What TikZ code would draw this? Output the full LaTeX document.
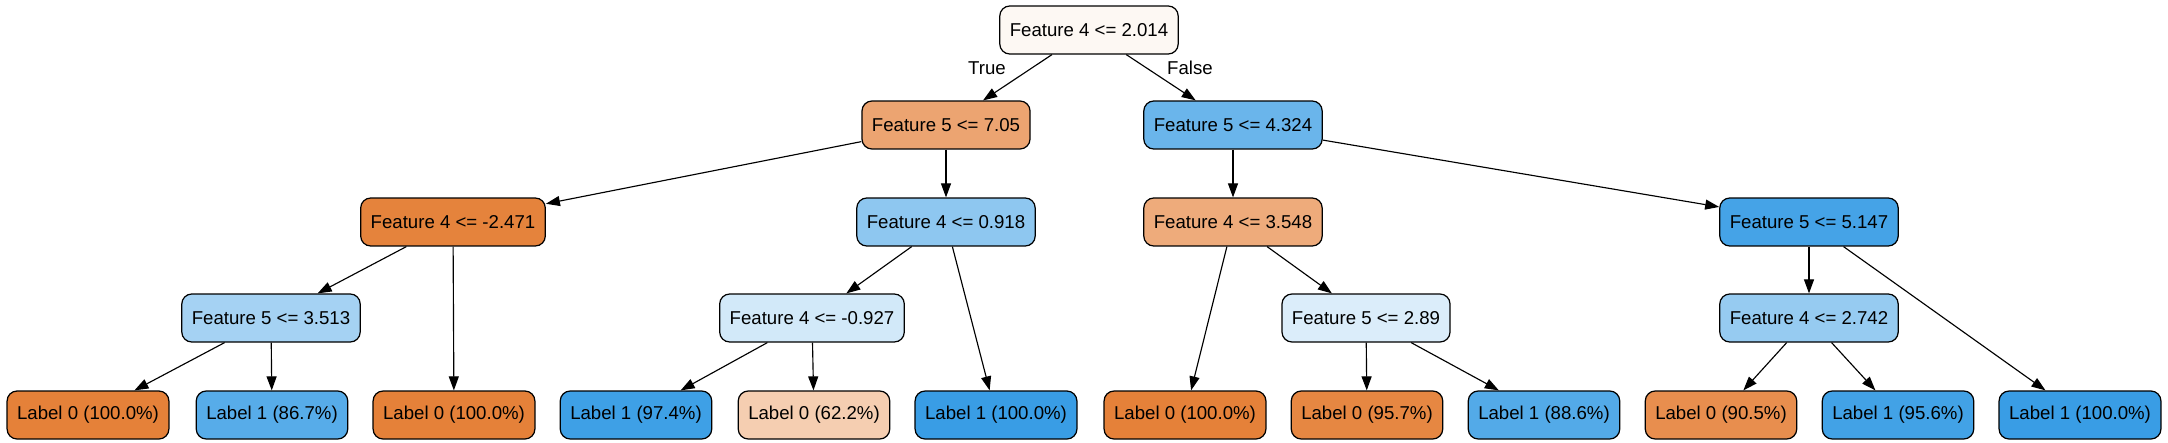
\documentclass[tikz,border=0pt]{standalone}
\usepackage{fontspec}
\setmainfont{Liberation Sans}
\usetikzlibrary{arrows.meta}

\definecolor{cRoot}{HTML}{FDF8F3}
\definecolor{cA}{HTML}{ECA471}
\definecolor{cB}{HTML}{6AB5EB}
\definecolor{cAA}{HTML}{E5833C}
\definecolor{cAB}{HTML}{8EC7F0}
\definecolor{cBA}{HTML}{EEAB7B}
\definecolor{cBB}{HTML}{45A3E7}
\definecolor{cAAA}{HTML}{A5D2F3}
\definecolor{cABA}{HTML}{D2E9F9}
\definecolor{cBAB}{HTML}{DBEDFA}
\definecolor{cBBA}{HTML}{96CBF1}
\definecolor{pureZero}{HTML}{E58139}
\definecolor{pureOne}{HTML}{399DE5}

\begin{document}
\begin{tikzpicture}[
    x=0.02cm, y=-0.02cm,
    font=\fontsize{10.6pt}{12.5pt}\selectfont,
    split/.style={draw=black, line width=0.7pt, rounded corners=0.2cm,
        inner xsep=0.2cm, minimum height=0.96cm, align=center},
    leaf/.style={split},
    edge/.style={-{Triangle[length=0.28cm, width=0.2cm]}, line width=0.65pt, draw=black}
]
\useasboundingbox (0,0) rectangle (2168,443);

% Root and first split
\node[split, fill=cRoot] (n0) at (1089,30) {Feature 4 <= 2.014};
\node[split, fill=cA] (nA) at (946,125) {Feature 5 <= 7.05};
\node[split, fill=cB] (nB) at (1233,125) {Feature 5 <= 4.324};

% Second level
\node[split, fill=cAA] (nAA) at (453,222) {Feature 4 <= -2.471};
\node[split, fill=cAB] (nAB) at (946,222) {Feature 4 <= 0.918};
\node[split, fill=cBA] (nBA) at (1233,222) {Feature 4 <= 3.548};
\node[split, fill=cBB] (nBB) at (1809,222) {Feature 5 <= 5.147};

% Third level
\node[split, fill=cAAA] (nAAA) at (271,318) {Feature 5 <= 3.513};
\node[split, fill=cABA] (nABA) at (812,318) {Feature 4 <= -0.927};
\node[split, fill=cBAB] (nBAB) at (1366,318) {Feature 5 <= 2.89};
\node[split, fill=cBBA] (nBBA) at (1809,318) {Feature 4 <= 2.742};

% Leaves
\node[leaf, fill=pureZero] (l1) at (88,415) {Label 0 (100.0\%)};
\node[leaf, fill={rgb,255:red,87;green,172;blue,233}] (l2) at (272,415) {Label 1 (86.7\%)};
\node[leaf, fill=pureZero] (l3) at (454,415) {Label 0 (100.0\%)};
\node[leaf, fill={rgb,255:red,62;green,160;blue,230}] (l4) at (636,415) {Label 1 (97.4\%)};
\node[leaf, fill={rgb,255:red,245;green,206;blue,177}] (l5) at (814,415) {Label 0 (62.2\%)};
\node[leaf, fill=pureOne] (l6) at (996,415) {Label 1 (100.0\%)};
\node[leaf, fill=pureZero] (l7) at (1185,415) {Label 0 (100.0\%)};
\node[leaf, fill={rgb,255:red,230;green,135;blue,66}] (l8) at (1367,415) {Label 0 (95.7\%)};
\node[leaf, fill={rgb,255:red,83;green,170;blue,232}] (l9) at (1544,415) {Label 1 (88.6\%)};
\node[leaf, fill={rgb,255:red,232;green,142;blue,78}] (l10) at (1721,415) {Label 0 (90.5\%)};
\node[leaf, fill={rgb,255:red,66;green,162;blue,230}] (l11) at (1898,415) {Label 1 (95.6\%)};
\node[leaf, fill=pureOne] (l12) at (2080,415) {Label 1 (100.0\%)};

% Edges
\draw[edge] (n0) -- (nA);
\draw[edge] (n0) -- (nB);
\node (tTrue) at (987,68) {True};
\node (tFalse) at (1190,68) {False};
\draw[edge] (nA) -- (nAA);
\draw[edge] (nA) -- (nAB);
\draw[edge] (nB) -- (nBA);
\draw[edge] (nB) -- (nBB);
\draw[edge] (nAA) -- (nAAA);
\draw[edge] (nAA) -- (l3);
\draw[edge] (nAAA) -- (l1);
\draw[edge] (nAAA) -- (l2);
\draw[edge] (nAB) -- (nABA);
\draw[edge] (nAB) -- (l6);
\draw[edge] (nABA) -- (l4);
\draw[edge] (nABA) -- (l5);
\draw[edge] (nBA) -- (l7);
\draw[edge] (nBA) -- (nBAB);
\draw[edge] (nBAB) -- (l8);
\draw[edge] (nBAB) -- (l9);
\draw[edge] (nBB) -- (nBBA);
\draw[edge] (nBB) -- (l12);
\draw[edge] (nBBA) -- (l10);
\draw[edge] (nBBA) -- (l11);

\end{tikzpicture}
\end{document}
